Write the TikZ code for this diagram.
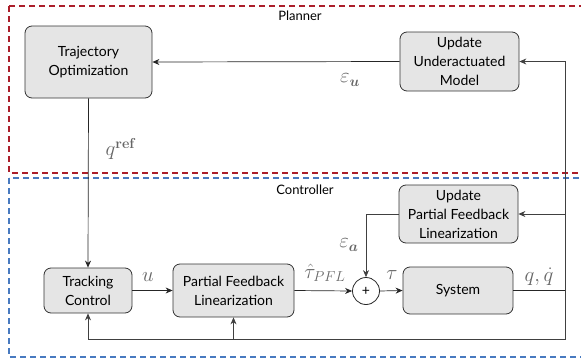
\documentclass[tikz,border=0pt]{standalone}
\usepackage{amsmath}
\usepackage[no-math]{fontspec}
\setmainfont{Lato}
\usetikzlibrary{arrows.meta}
\definecolor{plred}{RGB}{172,30,42}
\definecolor{ctblue}{RGB}{72,122,192}
\begin{document}
\begin{tikzpicture}[x=1pt,y=-1pt,
  blk/.style={draw=black!80, fill=black!10, rounded corners=7pt, line width=0.8pt, align=center,
    font=\fontsize{14}{19}\selectfont, inner sep=0pt},
  conn/.style={-{Stealth[length=7pt,width=6pt]}, line width=0.7pt, draw=black!85},
  fb/.style={line width=0.8pt, draw=black!75},
  lab/.style={text=black!60, font=\fontsize{22}{24}\selectfont, inner sep=0pt},
  ttl/.style={font=\fontsize{13}{15}\selectfont, inner sep=0pt}]
\useasboundingbox (0,0) rectangle (581,359);
\clip (0,0) rectangle (581,359);
\draw[plred, line width=1.3pt, dash pattern=on 6pt off 4pt] (9,6) rectangle (610,173);
\draw[ctblue, line width=1.3pt, dash pattern=on 6pt off 4pt] (9,178) rectangle (610,357);
\node[ttl] (planner) at (300,16) {Planner};
\node[ttl] (controller) at (305,190) {Controller};

\node[blk, minimum width=127pt, minimum height=72pt] (TO) at (88.5,62) {Trajectory\\Optimization};
\node[blk, minimum width=119pt, minimum height=59pt] (UUM) at (459.5,61.5) {Update\\Underactuated\\Model};
\node[blk, minimum width=88pt, minimum height=45pt] (TC) at (88,290.5) {Tracking\\Control};
\node[blk, minimum width=121pt, minimum height=53pt] (PFL) at (233.5,290.5) {Partial Feedback\\Linearization};
\node[draw=black!85, line width=0.8pt, circle, minimum size=27pt, inner sep=0pt, font=\fontsize{14}{15}\selectfont] (plus) at (366,291) {+};
\node[blk, minimum width=110pt, minimum height=47pt] (Sys) at (458,290.5) {System};
\node[blk, minimum width=119pt, minimum height=58pt] (UPFL) at (458.5,214) {Update\\Partial Feedback\\Linearization};

\coordinate (jr) at (565,290.5);
\coordinate (jm) at (565,214);
\coordinate (jb) at (565,339);
\coordinate (jp) at (233.5,339);

\draw[conn] (UUM.west) -- (TO.east);
\draw[conn] (TO.south) -- (TC.north);
\draw[conn] (TC.east) -- (PFL.west);
\draw[conn] (PFL.east) -- (plus.west);
\draw[conn] (plus.east) -- (Sys.west);
\draw[line width=1.3pt, black!85] (Sys.east) -- (jr);
\draw[conn, fb] (jr) |- (UUM.east);
\draw[conn, fb] (jm) -- (UPFL.east);
\draw[conn, fb] (UPFL.west) -| (plus.north);
\draw[conn, fb] (jr) -- (jb) -| (TC.south);
\draw[conn, fb] (jp) -- (PFL.south);

\node[lab] (eu) at (350,80) {$\varepsilon_{\boldsymbol{u}}$};
\node[lab] (qref) at (121,149) {$q^{\mathbf{ref}}$};
\node[lab] (u) at (148,277) {$u$};
\node[lab] (tpfl) at (325,273) {$\hat{\tau}_{PFL}$};
\node[lab] (tau) at (392,275) {$\tau$};
\node[lab] (ea) at (349,245) {$\varepsilon_{\boldsymbol{a}}$};
\node[lab] (qq) at (539,277) {$q,\dot{q}$};
\end{tikzpicture}
\end{document}
